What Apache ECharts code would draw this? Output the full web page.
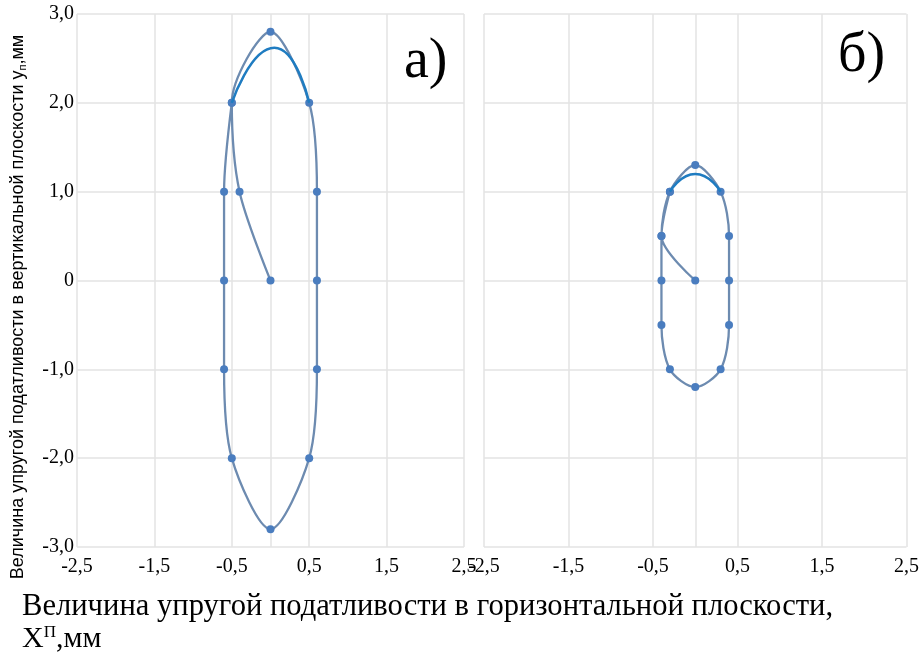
<!DOCTYPE html>
<html>
<head>
<meta charset="utf-8">
<script src="https://cdn.jsdelivr.net/npm/echarts@6/dist/echarts.min.js"></script>
<style>
html, body { margin: 0; padding: 0; background: #fff; }
#chart { width: 922px; height: 655px; }
</style>
</head>
<body>
<div id="chart"></div>
<script>
// а) — петля податливости, левый график
var loopA = [[0, 0], [-0.4, 1], [-0.5, 2], [0, 2.8], [0.5, 2], [0.6, 1], [0.6, 0], [0.6, -1],
    [0.5, -2], [0, -2.8], [-0.5, -2], [-0.6, -1], [-0.6, 0], [-0.6, 1], [-0.5, 2]];
var arcA = [[-0.5, 2], [0.05, 2.62], [0.5, 2]];
// б) — правый график
var loopB = [[0, 0], [-0.4, 0.5], [-0.3, 1], [0, 1.3], [0.3, 1], [0.4, 0.5], [0.4, 0], [0.4, -0.5],
    [0.3, -1], [0, -1.2], [-0.3, -1], [-0.4, -0.5], [-0.4, 0], [-0.4, 0.5], [-0.3, 1]];
var arcB = [[-0.3, 1], [0, 1.2], [0.3, 1]];

var chart = echarts.init(document.getElementById('chart'));

var serif = 'Liberation Serif, Times New Roman, serif';
var sans = 'Liberation Sans, Arial, sans-serif';
var gridColor = '#e3e3e3';
var lineColor = '#6d8bb0';
var dotColor = '#4a7dbf';
var arcColor = '#1f7cc1';

function fmt(v) {
    if (v === 0) return '0';
    return v.toFixed(1).replace('.', ',');
}

function xAxis(idx) {
    return {
        type: 'value', gridIndex: idx, min: -2.5, max: 2.5, interval: 1,
        axisLine: { show: false }, axisTick: { show: false },
        splitLine: { show: true, lineStyle: { color: gridColor, width: 1.5 } },
        axisLabel: { color: '#000', fontFamily: serif, fontSize: 20, margin: 10, formatter: fmt,
            showMinLabel: true, showMaxLabel: true }
    };
}

function yAxis(idx, labels) {
    return {
        type: 'value', gridIndex: idx, min: -3, max: 3, interval: 1,
        axisLine: { show: false }, axisTick: { show: false },
        splitLine: { show: true, lineStyle: { color: gridColor, width: 1.5 } },
        axisLabel: { show: labels, color: '#000', fontFamily: serif, fontSize: 20, margin: 3, formatter: fmt }
    };
}

function loop(idx, data) {
    return {
        type: 'line', xAxisIndex: idx, yAxisIndex: idx, data: data, smooth: 0.3,
        symbol: 'circle', symbolSize: 8, z: 3,
        lineStyle: { color: lineColor, width: 2.3 },
        itemStyle: { color: dotColor },
        markLine: {
            silent: true, symbol: 'none', label: { show: false },
            lineStyle: { color: gridColor, width: 1.5, type: 'solid' },
            data: [{ xAxis: 0 }], z: 1
        }
    };
}

function arc(idx, data) {
    return {
        type: 'line', xAxisIndex: idx, yAxisIndex: idx, data: data, smooth: 0.6,
        symbol: 'none', z: 4,
        lineStyle: { color: arcColor, width: 2.5 }
    };
}

var option = {
    backgroundColor: '#fff',
    animation: false,
    grid: [
        { left: 77, right: 458, top: 14, bottom: 108 },
        { left: 484, right: 14, top: 14, bottom: 108 }
    ],
    xAxis: [xAxis(0), xAxis(1)],
    yAxis: [yAxis(0, true), yAxis(1, false)],
    series: [loop(0, loopA), arc(0, arcA), loop(1, loopB), arc(1, arcB)],
    graphic: [
        {
            type: 'text', x: 18, y: 307, rotation: Math.PI / 2,
            style: {
                text: '{a|Величина упругой податливости в вертикальной плоскости у}{s|п}{a|,мм}',
                align: 'center', verticalAlign: 'middle',
                rich: {
                    a: { fontFamily: sans, fontSize: 18, fill: '#000' },
                    s: { fontFamily: sans, fontSize: 11, fill: '#000', padding: [9, 0, 0, 0] }
                }
            }
        },
        {
            type: 'text', left: 22, top: 591,
            style: { text: 'Величина упругой податливости в горизонтальной плоскости,',
                fontFamily: serif, fontSize: 30.6, fill: '#000' }
        },
        {
            type: 'text', left: 22, top: 624,
            style: {
                text: '{a|Х}{s|П}{a|,мм}',
                rich: {
                    a: { fontFamily: serif, fontSize: 30, fill: '#000' },
                    s: { fontFamily: serif, fontSize: 17, fill: '#000', padding: [0, 0, 14, 0] }
                }
            }
        },
        { type: 'text', left: 404, top: 34, style: { text: 'а)', fontFamily: serif, fontSize: 56, fill: '#000' } },
        { type: 'text', left: 838, top: 28, style: { text: 'б)', fontFamily: serif, fontSize: 56, fill: '#000' } }
    ]
};

chart.setOption(option);
</script>
</body>
</html>
